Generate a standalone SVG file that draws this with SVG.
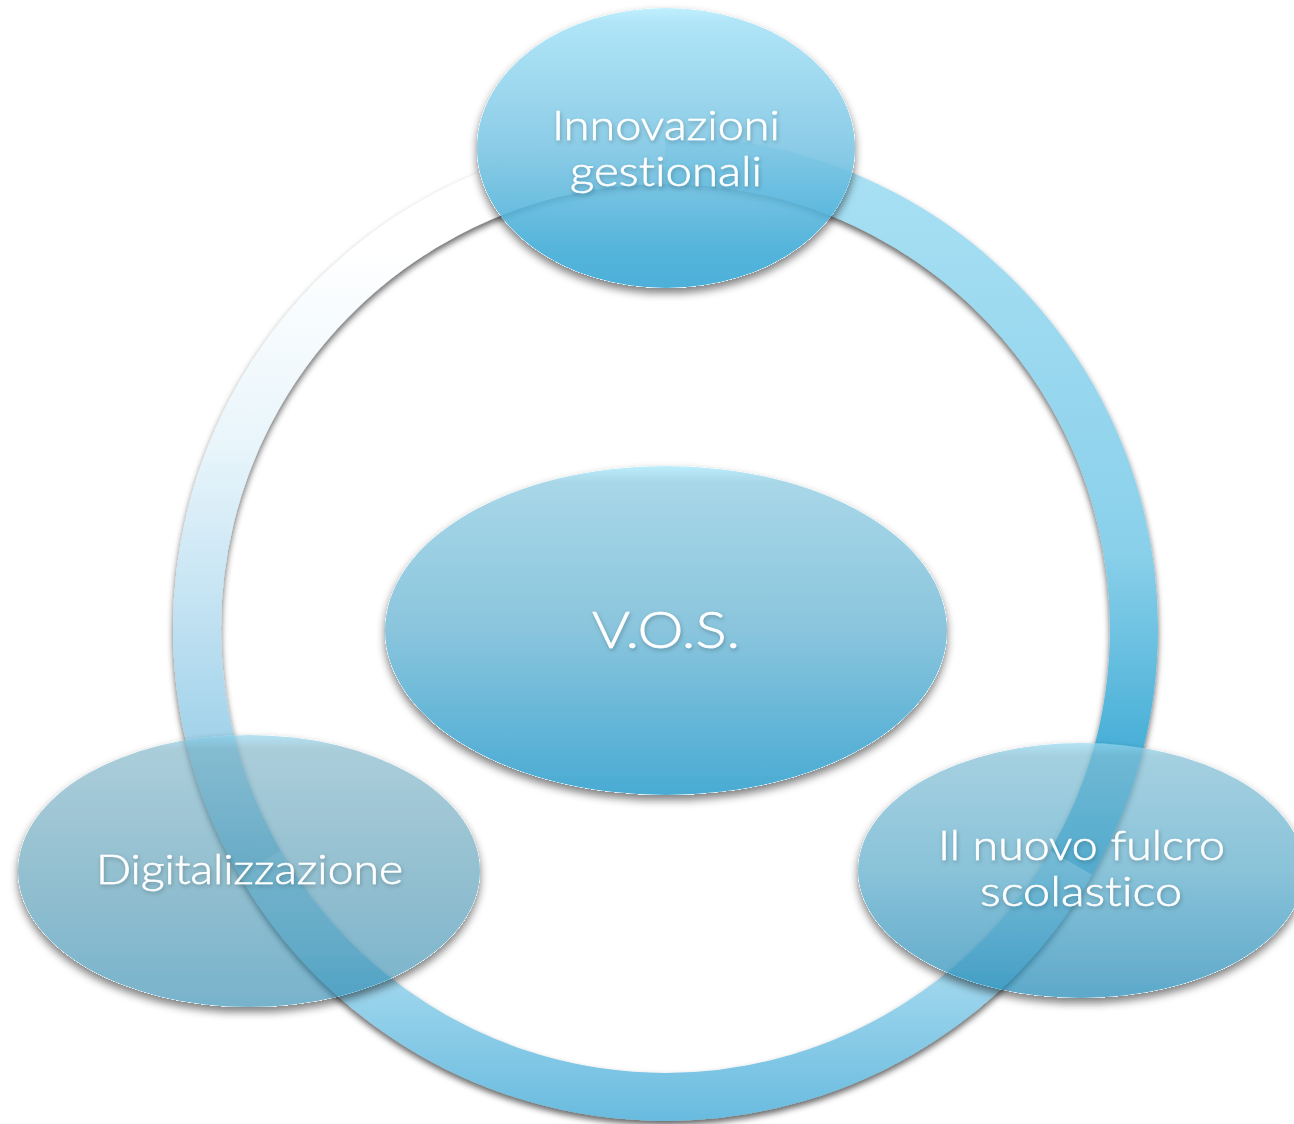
<svg xmlns="http://www.w3.org/2000/svg" width="1294" height="1124" viewBox="0 0 1294 1124">
  <defs>
    <style>
      .lbl { font-family: Lato, "Open Sans", "Liberation Sans", sans-serif; font-weight: 300; font-variant-ligatures: none; fill: #ffffff; stroke: #ffffff; stroke-width: 0.6; text-anchor: middle; filter: url(#tsh); }
      .arc { fill: none; stroke-width: 48; stroke-linecap: butt; }
    </style>
    <linearGradient id="gArcR" gradientUnits="userSpaceOnUse" x1="0" y1="170" x2="0" y2="862">
      <stop offset="0" stop-color="#a8e0f4"/>
      <stop offset="0.55" stop-color="#8ad0ea"/>
      <stop offset="0.82" stop-color="#4cb1d8"/>
      <stop offset="1" stop-color="#48aed6"/>
    </linearGradient>
    <linearGradient id="gArcB" gradientUnits="userSpaceOnUse" x1="0" y1="950" x2="0" y2="1121">
      <stop offset="0" stop-color="#aadcf0"/>
      <stop offset="1" stop-color="#69bbdf"/>
    </linearGradient>
    <linearGradient id="gArcL" gradientUnits="userSpaceOnUse" x1="0" y1="160" x2="0" y2="862">
      <stop offset="0" stop-color="#ffffff"/>
      <stop offset="0.13" stop-color="#ffffff"/>
      <stop offset="0.41" stop-color="#e8f5fb"/>
      <stop offset="0.63" stop-color="#c4e3f3"/>
      <stop offset="0.82" stop-color="#a3d3ea"/>
      <stop offset="1" stop-color="#92cbe6"/>
    </linearGradient>
    <linearGradient id="gTop" x1="0" y1="0" x2="0" y2="1">
      <stop offset="0" stop-color="#b8eefd"/>
      <stop offset="0.05" stop-color="#a5e1f6"/>
      <stop offset="0.5" stop-color="#7cc5e3"/>
      <stop offset="0.86" stop-color="#3eaad6"/>
      <stop offset="1" stop-color="#34a5d3"/>
    </linearGradient>
    <linearGradient id="gMid" x1="0" y1="0" x2="0" y2="1">
      <stop offset="0" stop-color="#bdeefc"/>
      <stop offset="0.05" stop-color="#a8d7e8"/>
      <stop offset="0.5" stop-color="#8ac5dd"/>
      <stop offset="0.85" stop-color="#5bb2d6"/>
      <stop offset="1" stop-color="#4aabd3"/>
    </linearGradient>
    <linearGradient id="gLeft" x1="0" y1="0" x2="0" y2="1">
      <stop offset="0" stop-color="#84d0eb"/>
      <stop offset="0.05" stop-color="#72acc1"/>
      <stop offset="0.5" stop-color="#4d96b1"/>
      <stop offset="1" stop-color="#1e80aa"/>
    </linearGradient>
    <linearGradient id="gRight" x1="0" y1="0" x2="0" y2="1">
      <stop offset="0" stop-color="#95d8ef"/>
      <stop offset="0.05" stop-color="#7ebcd3"/>
      <stop offset="0.5" stop-color="#58a9c9"/>
      <stop offset="1" stop-color="#1984b3"/>
    </linearGradient>
    <filter id="ringsh" x="-10%" y="-10%" width="120%" height="120%">
      <feDropShadow dx="0" dy="4" stdDeviation="3" flood-color="#000" flood-opacity="0.6"/>
    </filter>
    <filter id="esh" x="-10%" y="-10%" width="120%" height="130%">
      <feComponentTransfer in="SourceAlpha" result="a">
        <feFuncA type="linear" slope="20"/>
      </feComponentTransfer>
      <feGaussianBlur in="a" stdDeviation="4" result="b"/>
      <feOffset in="b" dy="5" result="o"/>
      <feFlood flood-color="#000" flood-opacity="0.5"/>
      <feComposite in2="o" operator="in" result="s"/>
      <feComposite in="s" in2="a" operator="out" result="s2"/>
      <feMerge>
        <feMergeNode in="s2"/>
        <feMergeNode in="SourceGraphic"/>
      </feMerge>
    </filter>
    <filter id="tsh" x="-10%" y="-30%" width="120%" height="160%">
      <feDropShadow dx="1" dy="2" stdDeviation="2" flood-color="#000" flood-opacity="0.25"/>
    </filter>
  </defs>

  <rect width="1294" height="1124" fill="#ffffff"/>

  <g id="connectors" filter="url(#ringsh)">
    <path class="arc" stroke="url(#gArcL)" d="M 259.8 862.75 A 468.5 468.5 0 0 1 665.5 160"/>
    <path class="arc" stroke="url(#gArcR)" d="M 665.5 160 A 468.5 468.5 0 0 1 1071.2 862.75"/>
    <path class="arc" stroke="url(#gArcB)" d="M 1071.2 862.75 A 468.5 468.5 0 0 1 259.8 862.75"/>
  </g>

  <g id="node-vos">
    <ellipse cx="666" cy="630.5" rx="281" ry="164.5" fill="url(#gMid)" filter="url(#esh)"/>
    <text class="lbl" x="666" y="648" font-size="51" textLength="148" lengthAdjust="spacingAndGlyphs">V.O.S.</text>
  </g>

  <g id="node-innovazioni">
    <ellipse cx="666" cy="148" rx="189" ry="140" fill="url(#gTop)" fill-opacity="0.88" filter="url(#esh)"/>
    <text class="lbl" x="666" y="140" font-size="42" textLength="228" lengthAdjust="spacingAndGlyphs">Innovazioni</text>
    <text class="lbl" x="666" y="186" font-size="42" textLength="192" lengthAdjust="spacingAndGlyphs">gestionali</text>
  </g>

  <g id="node-digitalizzazione">
    <ellipse cx="249" cy="871" rx="231" ry="136" fill="url(#gLeft)" fill-opacity="0.6" filter="url(#esh)"/>
    <text class="lbl" x="249.5" y="884" font-size="42" textLength="307" lengthAdjust="spacingAndGlyphs">Digitalizzazione</text>
  </g>

  <g id="node-fulcro">
    <ellipse cx="1081" cy="870.5" rx="223" ry="127.5" fill="url(#gRight)" fill-opacity="0.7" filter="url(#esh)"/>
    <text class="lbl" x="1081.5" y="860" font-size="42" textLength="287" lengthAdjust="spacingAndGlyphs">Il nuovo fulcro</text>
    <text class="lbl" x="1081" y="906" font-size="42" textLength="202" lengthAdjust="spacingAndGlyphs">scolastico</text>
  </g>
</svg>
